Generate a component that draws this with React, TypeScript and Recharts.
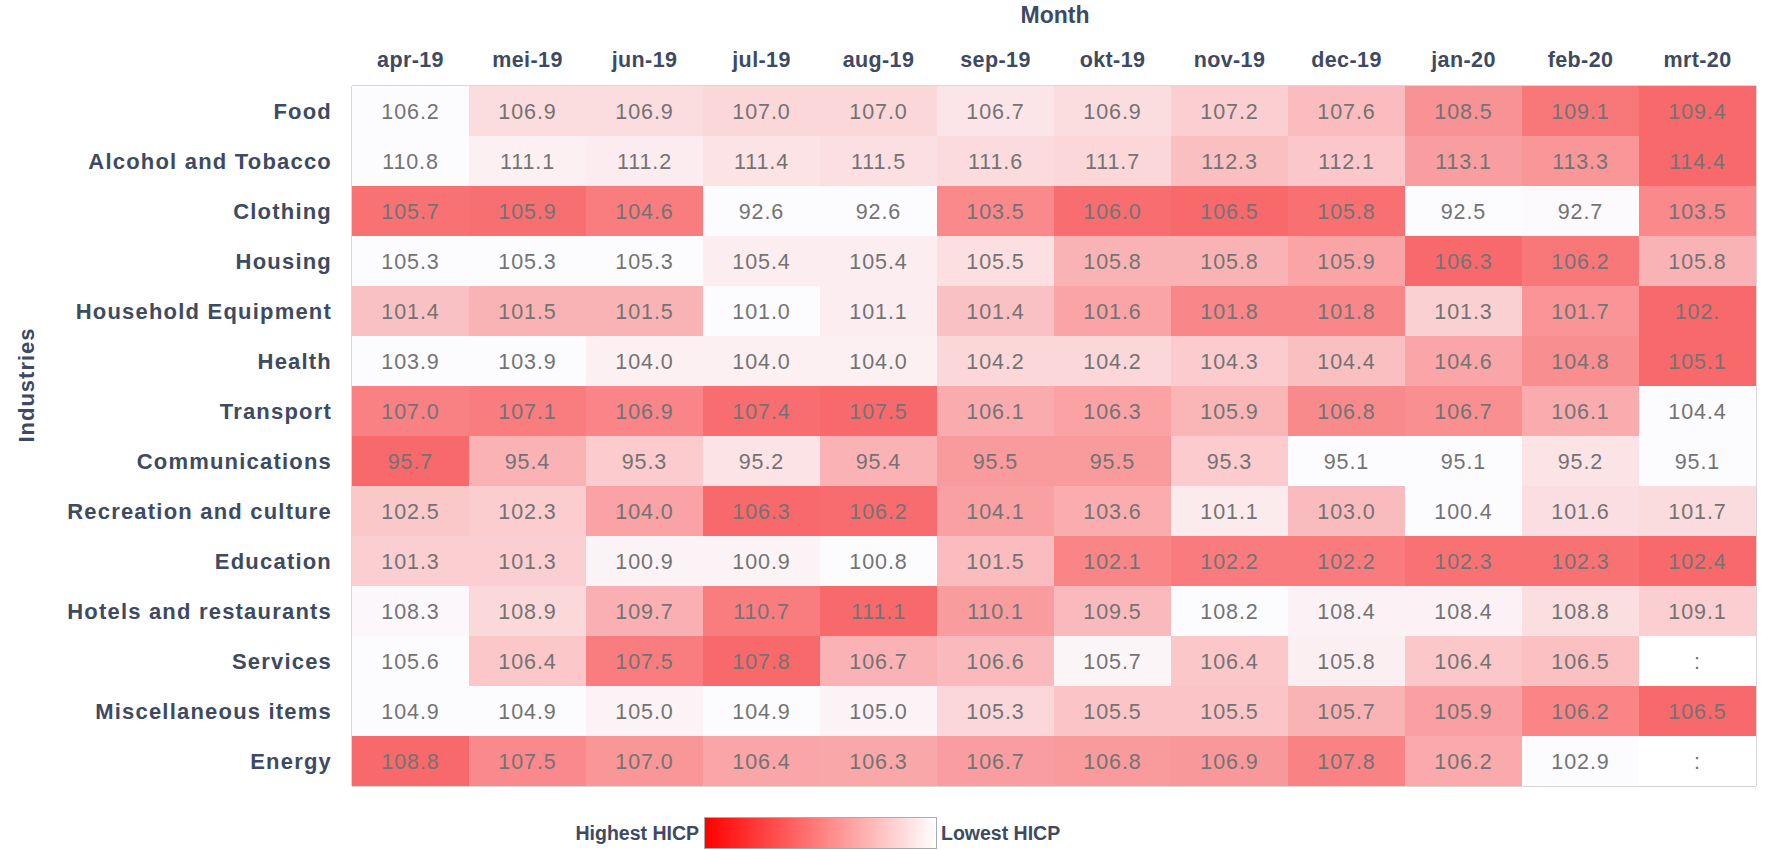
import React from 'react';
import { BarChart, Bar, XAxis, YAxis, Cell, ReferenceArea } from 'recharts';

const months = ['apr-19', 'mei-19', 'jun-19', 'jul-19', 'aug-19', 'sep-19', 'okt-19', 'nov-19', 'dec-19', 'jan-20', 'feb-20', 'mrt-20'];
const industries = ['Food', 'Alcohol and Tobacco', 'Clothing', 'Housing', 'Household Equipment', 'Health', 'Transport', 'Communications', 'Recreation and culture', 'Education', 'Hotels and restaurants', 'Services', 'Miscellaneous items', 'Energy'];

const food = [106.2, 106.9, 106.9, 107.0, 107.0, 106.7, 106.9, 107.2, 107.6, 108.5, 109.1, 109.4];
const alcohol = [110.8, 111.1, 111.2, 111.4, 111.5, 111.6, 111.7, 112.3, 112.1, 113.1, 113.3, 114.4];
const clothing = [105.7, 105.9, 104.6, 92.6, 92.6, 103.5, 106.0, 106.5, 105.8, 92.5, 92.7, 103.5];
const housing = [105.3, 105.3, 105.3, 105.4, 105.4, 105.5, 105.8, 105.8, 105.9, 106.3, 106.2, 105.8];
const household = [101.4, 101.5, 101.5, 101.0, 101.1, 101.4, 101.6, 101.8, 101.8, 101.3, 101.7, 102.0];
const health = [103.9, 103.9, 104.0, 104.0, 104.0, 104.2, 104.2, 104.3, 104.4, 104.6, 104.8, 105.1];
const transport = [107.0, 107.1, 106.9, 107.4, 107.5, 106.1, 106.3, 105.9, 106.8, 106.7, 106.1, 104.4];
const communications = [95.7, 95.4, 95.3, 95.2, 95.4, 95.5, 95.5, 95.3, 95.1, 95.1, 95.2, 95.1];
const recreation = [102.5, 102.3, 104.0, 106.3, 106.2, 104.1, 103.6, 101.1, 103.0, 100.4, 101.6, 101.7];
const education = [101.3, 101.3, 100.9, 100.9, 100.8, 101.5, 102.1, 102.2, 102.2, 102.3, 102.3, 102.4];
const hotels = [108.3, 108.9, 109.7, 110.7, 111.1, 110.1, 109.5, 108.2, 108.4, 108.4, 108.8, 109.1];
const services: (number | null)[] = [105.6, 106.4, 107.5, 107.8, 106.7, 106.6, 105.7, 106.4, 105.8, 106.4, 106.5, null];
const misc = [104.9, 104.9, 105.0, 104.9, 105.0, 105.3, 105.5, 105.5, 105.7, 105.9, 106.2, 106.5];
const energy: (number | null)[] = [108.8, 107.5, 107.0, 106.4, 106.3, 106.7, 106.8, 106.9, 107.8, 106.2, 102.9, null];

// label shown truncated in the original
const truncatedLabels = [{ row: 4, col: 11, text: '102.' }];

const rows: (number | null)[][] = [food, alcohol, clothing, housing, household, health, transport, communications, recreation, education, hotels, services, misc, energy];

const LOW = [252, 252, 255];
const HIGH = [248, 105, 107];
const FONT = "'Liberation Sans', Arial, Helvetica, sans-serif";
const LABEL_COLOR = '#3d4a62';
const VALUE_COLOR = '#737373';

function colorFor(rowIdx: number, v: number | null): string {
  if (v === null) return '#ffffff';
  const vals = rows[rowIdx].filter((x) => x !== null) as number[];
  const mn = Math.min(...vals);
  const mx = Math.max(...vals);
  const t = mx === mn ? 0 : (v - mn) / (mx - mn);
  const c = LOW.map((l, i) => Math.round(l + (HIGH[i] - l) * t));
  return `rgb(${c[0]},${c[1]},${c[2]})`;
}

function labelFor(rowIdx: number, colIdx: number): string {
  const o = truncatedLabels.find((t) => t.row === rowIdx && t.col === colIdx);
  if (o) return o.text;
  const v = rows[rowIdx][colIdx];
  return v === null ? ':' : v.toFixed(1);
}

const data = industries.map((name) => {
  const d: Record<string, string | number> = { industry: name };
  months.forEach((_, c) => {
    d[`m${c}`] = 1;
  });
  return d;
});

const monthTicks = months.map((_, i) => i + 0.5);

const XTick = (props: any) => {
  const { x, y, payload } = props;
  return (
    <text x={x} y={y} textAnchor="middle" fill={LABEL_COLOR} fontFamily={FONT} fontSize={21.5} fontWeight="bold" letterSpacing={0.4}>
      {months[Math.floor(payload.value)]}
    </text>
  );
};

const YTick = (props: any) => {
  const { x, y, payload } = props;
  return (
    <text x={x} y={y} dy="0.36em" textAnchor="end" fill={LABEL_COLOR} fontFamily={FONT} fontSize={22} fontWeight="bold" letterSpacing={1.2}>
      {payload.value}
    </text>
  );
};

const makeLabel = (col: number) => (props: any) => {
  const { x, y, width, height, index } = props;
  return (
    <text
      x={x + width / 2}
      y={y + height / 2}
      dy="0.36em"
      textAnchor="middle"
      fill={VALUE_COLOR}
      fontFamily={FONT}
      fontSize={21.5}
      letterSpacing={0.9}
    >
      {labelFor(index, col)}
    </text>
  );
};

export default function App() {
  return (
    <div style={{ position: 'absolute', left: 0, top: 0, width: 1791, height: 850, background: '#ffffff', fontFamily: FONT }}>
      <BarChart
        width={1791}
        height={800}
        data={data}
        layout="vertical"
        margin={{ top: 0, right: 35, left: 0, bottom: 14 }}
        barCategoryGap={0}
      >
        <XAxis
          type="number"
          orientation="top"
          domain={[0, 12]}
          ticks={monthTicks}
          height={86}
          axisLine={false}
          tickLine={false}
          tickSize={0}
          tickMargin={19}
          tick={<XTick />}
          interval={0}
        />
        <YAxis
          type="category"
          dataKey="industry"
          width={352}
          axisLine={false}
          tickLine={false}
          tickSize={0}
          tickMargin={20}
          tick={<YTick />}
          interval={0}
        />
        {months.map((_, c) => (
          <Bar key={c} dataKey={`m${c}`} stackId="a" isAnimationActive={false} label={makeLabel(c)}>
            {industries.map((_, r) => (
              <Cell key={r} fill={colorFor(r, rows[r][c])} />
            ))}
          </Bar>
        ))}
        <ReferenceArea x1={0} x2={12} fill="none" stroke="#b0b0b0" strokeWidth={1} ifOverflow="visible" />
      </BarChart>
      <div style={{ position: 'absolute', left: 955, top: 2, width: 200, textAlign: 'center', fontSize: 23, fontWeight: 'bold', color: LABEL_COLOR }}>
        Month
      </div>
      <div
        style={{
          position: 'absolute',
          left: 27,
          top: 385,
          transform: 'translate(-50%, -50%) rotate(-90deg)',
          fontSize: 22,
          fontWeight: 'bold',
          color: LABEL_COLOR,
          whiteSpace: 'nowrap',
          letterSpacing: 1,
        }}
      >
        Industries
      </div>
      <div style={{ position: 'absolute', left: 500, top: 822, width: 199, textAlign: 'right', fontSize: 19.5, fontWeight: 'bold', color: LABEL_COLOR }}>
        Highest HICP
      </div>
      <div
        style={{
          position: 'absolute',
          left: 704,
          top: 817,
          width: 231,
          height: 30,
          border: '1px solid #aaaaaa',
          background: 'linear-gradient(to right, #ff0000, #ffffff)',
        }}
      />
      <div style={{ position: 'absolute', left: 941, top: 822, fontSize: 19.5, fontWeight: 'bold', color: LABEL_COLOR }}>
        Lowest HICP
      </div>
    </div>
  );
}
